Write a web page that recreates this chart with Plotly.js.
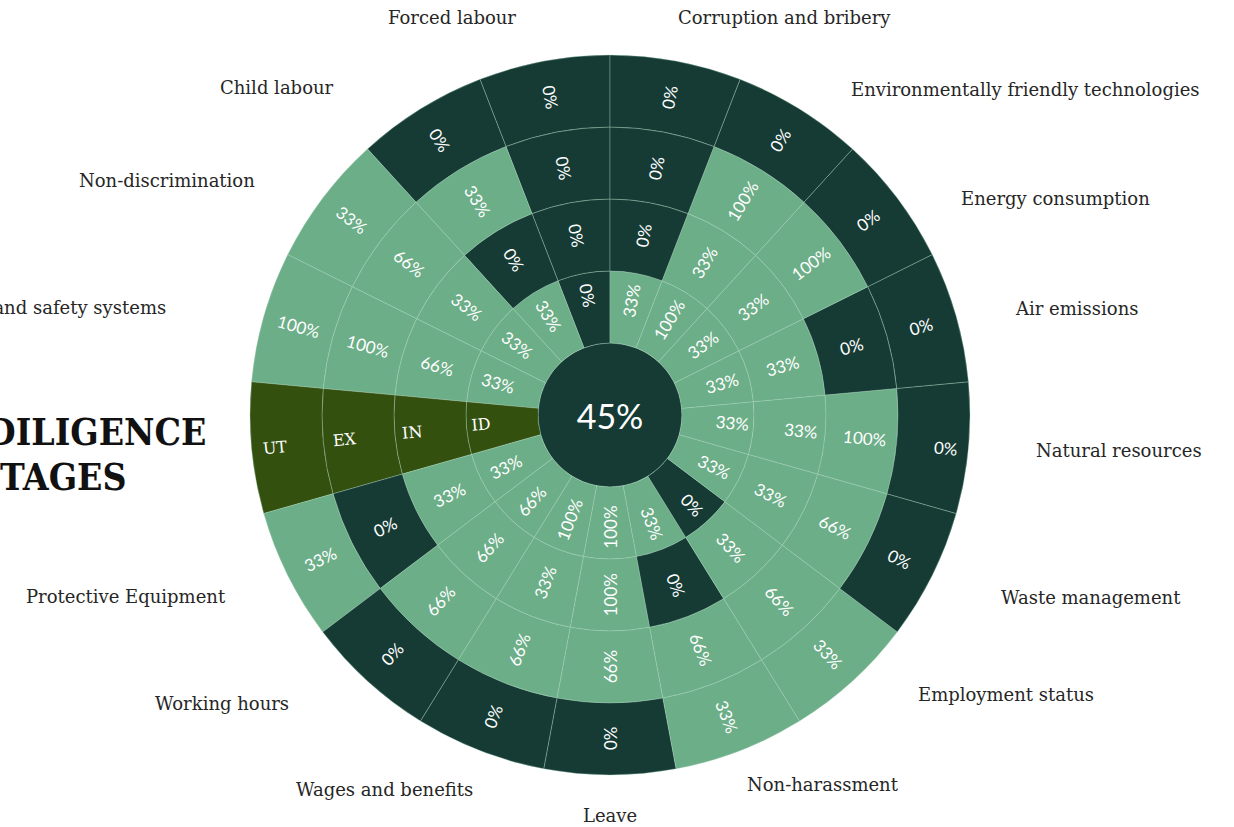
<!DOCTYPE html>
<html>
<head>
<meta charset="utf-8">
<script src="https://cdn.plot.ly/plotly-3.0.1.min.js"></script>
<style>html,body{margin:0;padding:0;background:#fff;}#chart{width:1234px;height:827px;}</style>
</head>
<body>
<div id="chart"></div>
<script>
// ---- data ----
var segments = ["Corruption and bribery", "Environmentally friendly technologies", "Energy consumption",
  "Air emissions", "Natural resources", "Waste management", "Employment status", "Non-harassment",
  "Leave", "Wages and benefits", "Working hours", "Protective Equipment", "STAGES",
  "Health and safety systems", "Non-discrimination", "Child labour", "Forced labour"];
var stageNames = ["ID", "IN", "EX", "UT"];
var valID = [33, 100, 33, 33, 33, 33, 0, 33, 100, 100, 66, 33, null, 33, 33, 33, 0];
var valIN = [0, 33, 33, 33, 33, 33, 33, 0, 100, 33, 66, 33, null, 66, 33, 0, 0];
var valEX = [0, 100, 100, 0, 100, 66, 66, 66, 66, 66, 66, 0, null, 100, 66, 33, 0];
var valUT = [0, 0, 0, 0, 0, 0, 33, 33, 0, 0, 0, 33, null, 100, 33, 0, 0];
var overall = 45;
var titleLines = ["DUE DILIGENCE", "STAGES"];

// ---- layout of the outer topic labels (pixel placement, same order as segments) ----
var labelPlacement = [
  [676, 18, "left"], [849, 90, "left"], [959, 198, "left"], [1013, 308, "left"],
  [1034, 450, "left"], [999, 597, "left"], [916, 694, "left"], [745, 784, "left"],
  [610, 815, "center"], [475, 789, "right"], [291, 703, "right"], [228, 596, "right"],
  null, [168, 307, "right"], [257, 180, "right"], [336, 88, "right"], [518, 18, "right"]
];
var titlePlacement = [[208, 432], [128, 477]];

// ---- style ----
var DARK = "#163b35", LIGHT = "#6cae88", OLIVE = "#34500f";
var CELL_FS = 17, STAGE_FS = 16;
// blank padding lines (font size per ring) used for the wedges that straddle the horizontal,
// so that plotly keeps their text at the wedge centre instead of on the horizontal line
var padFS = [8.3, 12.5, 16.5, 20.8];
var rings = [valID, valIN, valEX, valUT];
var step = 360 / segments.length;

function straddlesHorizontal(i) {
  var a0 = 90 - i * step, a1 = 90 - (i + 1) * step; // clockwise from 12 o'clock
  for (var h = -360; h <= 360; h += 180) { if (h < a0 && h > a1) return true; }
  return false;
}

var ids = ["root"], parents = [""], texts = [overall + "%"], colors = [DARK];
var fsize = [34], ffam = ["Lato, sans-serif"];
// sunburst lays children out counter-clockwise, so feed segments in reverse order
for (var k = segments.length - 1; k >= 0; k--) {
  var isStage = segments[k] === "STAGES";
  var pad = straddlesHorizontal(k);
  for (var j = 0; j < 4; j++) {
    ids.push(k + "-" + j);
    parents.push(j === 0 ? "root" : k + "-" + (j - 1));
    var label, fs;
    if (isStage) {
      label = stageNames[j]; fs = STAGE_FS;
      colors.push(OLIVE);
      ffam.push("DejaVu Serif, serif");
    } else {
      var v = rings[j][k];
      label = v + "%"; fs = CELL_FS;
      colors.push(v === 0 ? DARK : LIGHT);
      ffam.push("Lato, sans-serif");
    }
    if (pad) {
      texts.push("\u00a0<br><span style='font-size:" + fs + "px'>" + label + "</span><br>\u00a0");
      fsize.push(padFS[j]);
    } else {
      texts.push(label);
      fsize.push(fs);
    }
  }
}

var W = 1234, H = 827;
var dom = {x: [250 / W, 970 / W], y: [1 - 775 / H, 1 - 55 / H]};

var sun = {
  type: "sunburst",
  ids: ids, parents: parents, labels: ids, text: texts,
  textinfo: "text",
  sort: false,
  rotation: 90,
  insidetextorientation: "radial",
  hoverinfo: "skip",
  leaf: {opacity: 1},
  marker: {colors: colors, line: {color: "rgba(170,215,190,0.35)", width: 1}},
  textfont: {size: fsize, family: ffam, color: "#ffffff"},
  domain: dom
};

var annotations = [];
segments.forEach(function (s, i) {
  var p = labelPlacement[i];
  if (!p) return;
  annotations.push({
    text: s, xref: "paper", yref: "paper", x: p[0] / W, y: 1 - p[1] / H,
    xanchor: p[2], yanchor: "middle", showarrow: false,
    font: {family: "DejaVu Serif, serif", size: 18, color: "#262626"}
  });
});
titleLines.forEach(function (t, i) {
  annotations.push({
    text: "<b>" + t + "</b>", xref: "paper", yref: "paper",
    x: titlePlacement[i][0] / W, y: 1 - titlePlacement[i][1] / H,
    xanchor: "right", yanchor: "middle", showarrow: false,
    font: {family: "DejaVu Serif Condensed, DejaVu Serif, serif", size: 37, color: "#111111"}
  });
});

var layout = {
  width: W, height: H,
  margin: {l: 0, r: 0, t: 0, b: 0},
  paper_bgcolor: "#ffffff",
  showlegend: false,
  annotations: annotations
};

Plotly.newPlot("chart", [sun], layout, {displayModeBar: false, staticPlot: true});
</script>
</body>
</html>
